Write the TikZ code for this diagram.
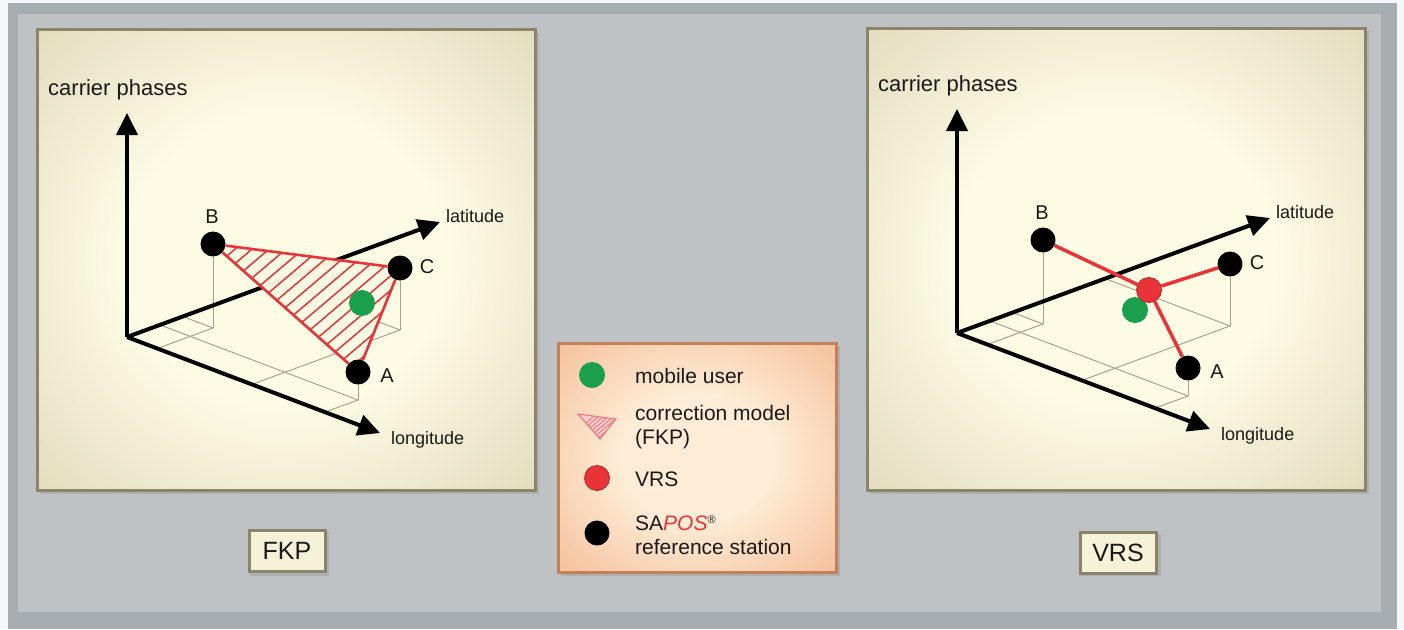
\documentclass[tikz,border=0pt]{standalone}
\usepackage{fontspec}
\setmainfont{Liberation Sans}
\usetikzlibrary{arrows.meta}

\definecolor{framewhite}{RGB}{246,247,248}
\definecolor{frameband}{RGB}{167,174,178}
\definecolor{framebg}{RGB}{190,194,197}
\definecolor{panelhi}{RGB}{253,251,228}
\definecolor{panello}{RGB}{202,192,156}
\definecolor{panelrim}{RGB}{138,132,106}
\definecolor{legendhi}{RGB}{254,236,214}
\definecolor{legendlo}{RGB}{236,150,98}
\definecolor{legendrim}{RGB}{196,128,86}
\definecolor{tagfill}{RGB}{246,242,216}
\definecolor{gridline}{RGB}{168,162,140}
\definecolor{sapred}{RGB}{232,52,56}
\definecolor{usergreen}{RGB}{26,160,76}

\pgfdeclarelayer{frame}
\pgfdeclarelayer{back}
\pgfsetlayers{frame,back,main}

\pgfdeclareradialshading{panelglow}{\pgfpoint{0bp}{0bp}}{color(0bp)=(panelhi); color(16bp)=(panelhi); color(54bp)=(panello); color(80bp)=(panello)}
\pgfdeclareradialshading{legendglow}{\pgfpoint{0bp}{0bp}}{color(0bp)=(legendhi); color(14bp)=(legendhi); color(56bp)=(legendlo); color(80bp)=(legendlo)}

\newcommand{\phasefont}{\fontsize{22}{24}\selectfont}
\newcommand{\dirfont}{\fontsize{18}{20}\selectfont}
\newcommand{\stnfont}{\fontsize{20}{22}\selectfont}
\newcommand{\legfont}{\fontsize{21}{24}\selectfont}
\newcommand{\tagfont}{\fontsize{25}{27}\selectfont}

\tikzset{
  station/.style = {circle, fill=black, minimum size=25pt, inner sep=0pt},
  user/.style    = {circle, fill=usergreen, minimum size=26pt, inner sep=0pt},
  vrs/.style     = {circle, fill=sapred, draw=sapred!75!black, line width=0.8pt,
                    minimum size=25pt, inner sep=0pt},
  axis/.style    = {line width=4pt, -{Triangle[length=22pt,width=21pt]}},
  grid/.style    = {gridline, line width=1pt},
  model/.style   = {sapred, line width=2.6pt},
  hatch/.style   = {sapred, line width=1.5pt},
  link/.style    = {sapred, line width=3.5pt},
  lbl/.style     = {inner sep=0pt, text=black!90},
  tagbox/.style  = {draw=panelrim, line width=3pt, fill=tagfill, text=black!90,
                    minimum width=76pt, minimum height=41pt, inner sep=0pt, font=\tagfont},
}

\begin{document}
\begin{tikzpicture}[x=1pt,y=-1pt]

\useasboundingbox (0,0) rectangle (1404,629);

% background and boxes
\begin{pgfonlayer}{frame}
\fill[framewhite] (0,0) rectangle (1404,629);
\fill[frameband] (8,3) rectangle (1397,629);
\fill[framebg] (18,14) rectangle (1381,612);

\fill[black!40, opacity=.45] (40,33) rectangle (539,494);
\shade[shading=panelglow] (37,29) rectangle (535,490);
\draw[panelrim, line width=3pt] (37,29) rectangle (535,490);

\fill[black!40, opacity=.45] (870,31) rectangle (1369,494);
\shade[shading=panelglow] (867,28) rectangle (1365,490);
\draw[panelrim, line width=3pt] (867,28) rectangle (1365,490);

\fill[black!40, opacity=.45] (561,346) rectangle (840,576);
\shade[shading=legendglow] (558,343) rectangle (836,572);
\draw[legendrim, line width=3pt] (558,343) rectangle (836,572);

\fill[black!40, opacity=.45] (250,532) rectangle (329,576);
\fill[black!40, opacity=.45] (1080,534) rectangle (1161,576);
\end{pgfonlayer}

% FKP panel
\coordinate (fO) at (127,337);
\coordinate (fup) at (127,113);
\coordinate (flat) at (440,222);
\coordinate (flon) at (380,433);

\node[user] (fuser) at (362,303) {};
\node[station] (fB) at (213,244) {};
\node[station] (fC) at (400,268) {};
\node[station] (fA) at (358,372) {};

\node[lbl, font=\stnfont] (fBl) at (212,217) {B};
\node[lbl, font=\stnfont] (fCl) at (427,267) {C};
\node[lbl, font=\stnfont] (fAl) at (387,376) {A};
\node[lbl, font=\phasefont, anchor=west] (fphase) at (48,90) {carrier phases};
\node[lbl, font=\dirfont, anchor=west] (flatl) at (446,216) {latitude};
\node[lbl, font=\dirfont, anchor=west] (flonl) at (391,440) {longitude};

\coordinate (fBf) at (213,328);
\coordinate (fBx) at (157.3,348.5);
\coordinate (fBy) at (182.7,316.5);
\coordinate (fCf) at (400,330);
\coordinate (fCx) at (251.9,384.4);
\coordinate (fCy) at (275.1,282.6);
\coordinate (fAf) at (358,400);
\coordinate (fAx) at (325,412.1);
\coordinate (fAy) at (160,324.9);

\begin{pgfonlayer}{back}
\draw[grid] (fB) -- (fBf);
\draw[grid] (fC) -- (fCf);
\draw[grid] (fA) -- (fAf);
\draw[grid] (fBx) -- (fBf) -- (fBy);
\draw[grid] (fCx) -- (fCf) -- (fCy);
\draw[grid] (fAx) -- (fAf) -- (fAy);

\draw[axis] (fO) -- (fup);
\draw[axis] (fO) -- (flat);
\draw[axis] (fO) -- (flon);

\fill[panelhi, opacity=.96] (fB.center) -- (fC.center) -- (fA.center) -- cycle;
\begin{scope}
  \clip (fB.center) -- (fC.center) -- (fA.center) -- cycle;
  \foreach \x in {0,17,...,340}
    \draw[hatch] (\x,420) -- ++(300,-255);
\end{scope}
\end{pgfonlayer}

\draw[model] (fB) -- (fC);
\draw[model] (fC) -- (fA);
\draw[model] (fA) -- (fB);

\node[tagbox] (fkptag) at (287,551) {FKP};

% VRS panel
\begin{scope}[shift={(830,-4)}]
\coordinate (vO) at (127,337);
\coordinate (vup) at (127,113);
\coordinate (vlat) at (440,222);
\coordinate (vlon) at (380,433);

\node[user] (vuser) at (305,314) {};
\node[vrs] (vV) at (319,294) {};
\node[station] (vB) at (213,244) {};
\node[station] (vC) at (400,268) {};
\node[station] (vA) at (358,372) {};

\node[lbl, font=\stnfont] (vBl) at (212,217) {B};
\node[lbl, font=\stnfont] (vCl) at (427,267) {C};
\node[lbl, font=\stnfont] (vAl) at (387,376) {A};
\node[lbl, font=\phasefont, anchor=west] (vphase) at (48,90) {carrier phases};
\node[lbl, font=\dirfont, anchor=west] (vlatl) at (446,216) {latitude};
\node[lbl, font=\dirfont, anchor=west] (vlonl) at (391,440) {longitude};

\coordinate (vBf) at (213,328);
\coordinate (vBx) at (157.3,348.5);
\coordinate (vBy) at (182.7,316.5);
\coordinate (vCf) at (400,330);
\coordinate (vCx) at (251.9,384.4);
\coordinate (vCy) at (275.1,282.6);
\coordinate (vAf) at (358,400);
\coordinate (vAx) at (325,412.1);
\coordinate (vAy) at (160,324.9);

\begin{pgfonlayer}{back}
\draw[grid] (vB) -- (vBf);
\draw[grid] (vC) -- (vCf);
\draw[grid] (vA) -- (vAf);
\draw[grid] (vBx) -- (vBf) -- (vBy);
\draw[grid] (vCx) -- (vCf) -- (vCy);
\draw[grid] (vAx) -- (vAf) -- (vAy);

\draw[axis] (vO) -- (vup);
\draw[axis] (vO) -- (vlat);
\draw[axis] (vO) -- (vlon);
\end{pgfonlayer}

\draw[link] (vV) -- (vB);
\draw[link] (vV) -- (vC);
\draw[link] (vV) -- (vA);
\end{scope}

\node[tagbox] (vrstag) at (1118,553) {VRS};

% legend
\node[user] (kuser) at (592,375) {};
\coordinate (k1) at (578,414);
\coordinate (k2) at (616,419);
\coordinate (k3) at (600,439);
\fill[sapred!25] (k1) -- (k2) -- (k3) -- cycle;
\begin{scope}
  \clip (k1) -- (k2) -- (k3) -- cycle;
  \foreach \x in {560,565,...,640}
    \draw[sapred!70, line width=0.8pt] (\x,445) -- ++(40,-34);
\end{scope}
\draw[sapred!70, line width=1pt] (k1) -- (k2) -- (k3) -- cycle;
\node[vrs] (kvrs) at (597,478) {};
\node[station] (kstn) at (597,533) {};

\node[lbl, font=\legfont, anchor=west] (kuserl) at (635,376) {mobile user};
\node[lbl, font=\legfont, anchor=west, align=left] (kmodell) at (635,427)
  {correction model\\(FKP)};
\node[lbl, font=\legfont, anchor=west] (kvrsl) at (635,479) {VRS};
\node[lbl, font=\legfont, anchor=west, align=left] (kstnl) at (635,535)
  {SA{\color{sapred}\itshape POS}\raisebox{0.6ex}{\fontsize{11}{11}\selectfont ®}\\reference station};

\end{tikzpicture}
\end{document}
